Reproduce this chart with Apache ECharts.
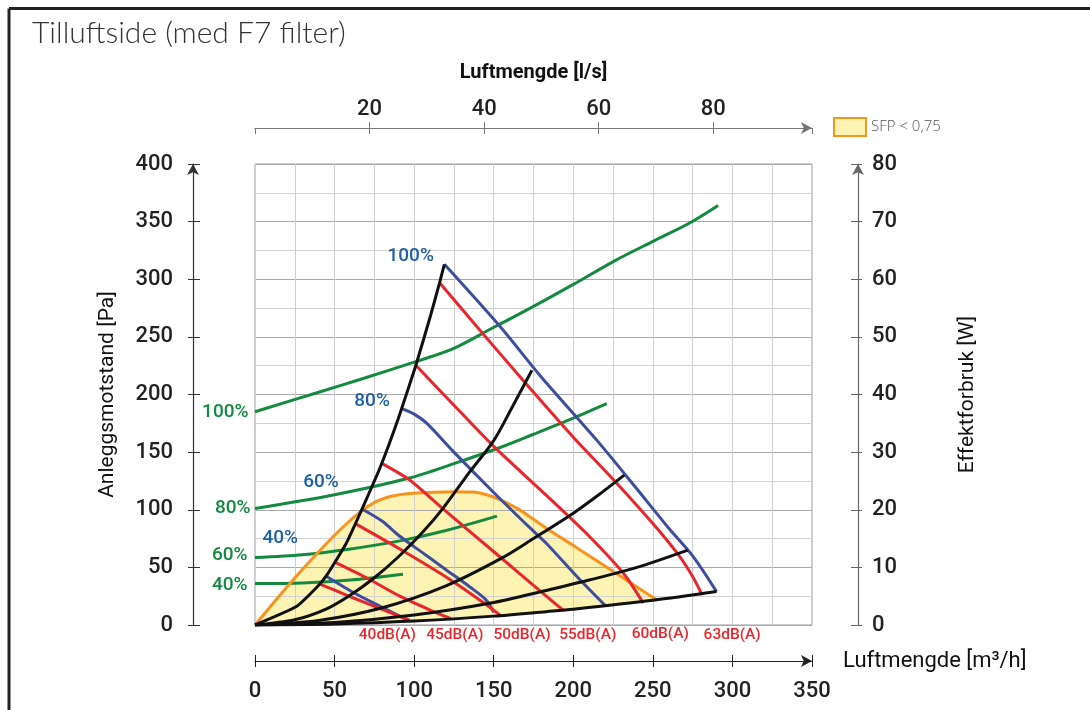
<!DOCTYPE html>
<html><head><meta charset="utf-8">
<script src="https://cdn.jsdelivr.net/npm/echarts@6.0.0/dist/echarts.min.js"></script>
<style>html,body{margin:0;padding:0;background:#fff}#c{width:1090px;height:710px}</style>
</head><body><div id="c"></div>
<script>
// ---------- DATA (x = Luftmengde m³/h, y = Pa or W) ----------
// Anleggskurver (black system curves) [m³/h, Pa]
const sys1 = [[0,0],[26,16],[39,33],[45,43],[57,70],[68,103],[79,138],[90,179],[101,225],[110,267],[116,297],[119,313]];
const sys2 = [[0,0],[25,4.5],[45,14],[60,26],[75,41],[90,59],[105,80],[118,101],[135,133],[150,160],[162,190],[174,221]];
const sys3 = [[0,0],[40,4],[80,15],[120,34],[155,58],[175,75],[200,97],[217,114],[232,130]];
const sys4 = [[0,0],[50,2.2],[100,8.7],[150,19.5],[183,30],[210,39],[240,50],[272,65]];
const sys5 = [[0,0],[50,0.9],[100,3.4],[150,7.7],[183,11.6],[200,13.7],[250,21.4],[290,29]];
// Viftekurver (blue fan curves) [m³/h, Pa]
const fan100 = [[119,313],[154,259],[180,215],[215,160],[240,118],[260,84],[275,60],[290,29]];
const fan80  = [[92,188],[100,183],[108,175],[125,150],[150,115],[173,84],[183,71],[203,41],[220,17]];
const fan60  = [[68,100],[80,90],[91,77],[105,63],[120,48],[135,33],[145,22],[150,11]];
const fan40  = [[45,42],[62,28],[79,16],[92,7],[97,4]];
const fanNames = ['100%','80%','60%','40%'];
// Lydlinjer (red sound lines) [m³/h, Pa]
const db40 = [[40,36],[60,24.5],[80,13.5],[97,4]];
const db45 = [[49.5,55],[70,41],[91,25],[110,13],[123,5.5]];
const db50 = [[63,88],[91,66],[122,40],[145,18],[154,8.5]];
const db55 = [[80,140],[97,126],[118,101],[154,59],[183,25],[194,12.5]];
const db60 = [[100.6,226],[122,195],[150,155],[185,110],[210,77],[232,44],[244,19]];
const db63 = [[116,297],[140,258],[168,213],[200,163],[226,125],[250,88],[266,61],[275,42],[281,26]];
const dbNames = ['40dB(A)','45dB(A)','50dB(A)','55dB(A)','60dB(A)','63dB(A)'];
// Effektforbruk (green power curves) [m³/h, W]
const pow100 = [[0,37],[40,40.4],[66,42.6],[101,45.7],[125,48],[151,51.8],[173,55],[200,59.1],[226,63.2],[251,66.7],[274,69.9],[291,72.8]];
const pow80  = [[0,20.2],[50,22.6],[97,25.5],[125,28.0],[154,30.8],[175,33.1],[200,35.9],[221,38.4]];
const pow60  = [[0,11.7],[30,12.2],[60,13.2],[91,14.6],[120,16.4],[152,18.9]];
const pow40  = [[0,7.2],[30,7.3],[60,7.8],[93,8.8]];
const powNames = ['100%','80%','60%','40%'];
// SFP < 0,75 boundary [m³/h, Pa]
const sfpEdge = [[0,0],[22,36],[39,62],[53,82],[66,98],[76,107],[85,111.5],[97,114],[125,115.7],[137,115.5],[150,111],[165,101],[183,84],[200,69],[230,42],[252.5,21.7]];
const sfpName = 'SFP < 0,75';

// ---------- STYLE ----------
const FONT = "'Roboto', 'DejaVu Sans', sans-serif";
const C = {black:'#111111', blue:'#3d4ea0', blueTxt:'#1f5fa8', red:'#e8262b', green:'#138a3f', orange:'#f7941d', fill:'#fdf3b3'};
const LW = 3;
const fanLabel = [ {d:10, o:[0,-8]}, {d:11, o:[0,-7]}, {d:24, o:[0,-28]}, {d:28, o:[0,-38]} ];
const powLabel = [ {d:6, o:[0,0]}, {d:4, o:[0,0]}, {d:7, o:[0,-2]}, {d:7, o:[0,2]} ];
const dbLabel  = [ [-22,6], [4,8], [22,11], [24,16], [17,23], [30,31.5] ];

function line(data, color, opts) {
  return Object.assign({
    type:'line', data: data, showSymbol:false, symbol:'none', smooth:0.3,
    lineStyle:{color:color, width:LW}, itemStyle:{color:color},
    xAxisIndex:0, yAxisIndex:0, silent:true, animation:false, z:3
  }, opts||{});
}
function mark(coord, text, color, size, pos, dist, off) {
  return { symbol:'circle', symbolSize:1, itemStyle:{color:'rgba(0,0,0,0)'}, animation:false, silent:true,
    label:{show:true, formatter:text, color:color, fontSize:size, fontWeight:500, fontFamily:FONT,
      position:pos, distance:dist, offset:off},
    data:[{coord:coord}] };
}

const series = [];
// SFP area
series.push({
  type:'custom', name:sfpName, xAxisIndex:0, yAxisIndex:0, z:-1, silent:true, animation:false,
  itemStyle:{color:C.fill},
  renderItem:function(params, api){
    const lower = sys5.filter(p => p[0] < sfpEdge[sfpEdge.length-1][0]).slice().reverse();
    const pts = sfpEdge.concat(lower).map(p => api.coord(p));
    return {type:'polygon', shape:{points:pts, smooth:0}, style:{fill:C.fill}};
  },
  data:[[0,0]]
});
// green power curves
[pow100,pow80,pow60,pow40].forEach((d,i)=>{
  series.push(line(d, C.green, {yAxisIndex:3, z:3,
    markPoint: mark(d[0], powNames[i], C.green, 19, 'left', powLabel[i].d, powLabel[i].o)}));
});
// orange SFP line
series.push(line(sfpEdge, C.orange, {z:4}));
// blue fan curves
[fan100,fan80,fan60,fan40].forEach((d,i)=>{
  series.push(line(d, C.blue, {z:5,
    markPoint: mark(d[0], fanNames[i], C.blueTxt, 19, 'left', fanLabel[i].d, fanLabel[i].o)}));
});
// red sound lines
[db40,db45,db50,db55,db60,db63].forEach((d,i)=>{
  series.push(line(d, C.red, {z:6, smooth:0.2,
    markPoint: mark(d[d.length-1], dbNames[i], C.red, 15.5, 'bottom', 0, dbLabel[i])}));
});
// black system curves
[sys1,sys2,sys3,sys4,sys5].forEach((d,i)=>{
  series.push(line(d, C.black, {z:7, smooth: i===0 ? 0.15 : 0.3}));
});

const axisTxt = {fontSize:22, fontWeight:500, color:'#222', fontFamily:FONT};
const nameTxt = {fontSize:21, color:'#111', fontFamily:FONT};
const hidden = {axisLine:{show:false}, axisTick:{show:false}, axisLabel:{show:false}, splitLine:{show:false}};
function aline(color){ return {show:true, onZero:false, symbol:['none','arrow'], symbolSize:[9,11], lineStyle:{color:color, width:1.2}}; }
function ticksOnly(color, len){ return {axisLine:{show:false, onZero:false}, axisTick:{show:true, inside:true, length:len, lineStyle:{color:color}}, axisLabel:{show:false}, splitLine:{show:false}}; }

const option = {
  animation:false,
  textStyle:{fontFamily:FONT},
  title:{text:'Tilluftside (med F7 filter)', left:27, top:13,
    textStyle:{fontSize:30, fontWeight:300, color:'#333', fontFamily:"'Lato', 'Open Sans', sans-serif"}},
  legend:{left:828, top:112, itemWidth:32, itemHeight:18, selectedMode:false, itemGap:8,
    data:[{name:sfpName, icon:'rect', itemStyle:{color:C.fill, borderColor:C.orange, borderWidth:2}}],
    textStyle:{fontSize:15, color:'#555', fontWeight:300, fontFamily:"'Open Sans', sans-serif"}},
  grid:{left:255, right:278, top:164, bottom:85, show:true, borderColor:'#9a9a9a', borderWidth:1, backgroundColor:'transparent'},
  xAxis:[
    Object.assign({}, hidden, {type:'value', min:0, max:350, interval:25,
      splitLine:{show:true, lineStyle:{color:'#cfcfcf', width:1}}}),
    {type:'value', position:'bottom', offset:36, min:0, max:350, interval:50,
      axisLine:aline('#222'),
      axisTick:{show:true, length:6, lineStyle:{color:'#222'}},
      axisLabel:Object.assign({margin:19}, axisTxt), splitLine:{show:false},
      name:'Luftmengde [m³/h]', nameLocation:'end', nameGap:31,
      nameTextStyle:Object.assign({align:'left', verticalAlign:'middle'}, nameTxt, {fontSize:22})},
    Object.assign({type:'value', position:'bottom', offset:36, min:0, max:350, interval:50}, ticksOnly('#222',6)),
    {type:'value', position:'top', offset:36, min:0, max:350/3.6, interval:20,
      axisLine:aline('#777'),
      axisTick:{show:true, length:6, lineStyle:{color:'#777'}},
      axisLabel:Object.assign({margin:8, showMinLabel:false, showMaxLabel:false}, axisTxt), splitLine:{show:false},
      name:'Luftmengde [l/s]', nameLocation:'middle', nameGap:45,
      nameTextStyle:Object.assign({}, nameTxt, {fontWeight:'bold', fontSize:20})},
    Object.assign({type:'value', position:'top', offset:36, min:0, max:350/3.6, interval:20}, ticksOnly('#777',6))
  ],
  yAxis:[
    Object.assign({}, hidden, {type:'value', min:0, max:400, interval:25, position:'left',
      splitLine:{show:true, lineStyle:{color:['#a9a9a9','#d2d2d2'], width:1}}}),
    {type:'value', position:'left', offset:62, min:0, max:400, interval:50,
      axisLine:aline('#333'),
      axisTick:{show:true, length:5, lineStyle:{color:'#333'}},
      axisLabel:Object.assign({margin:20}, axisTxt), splitLine:{show:false},
      name:'Anleggsmotstand [Pa]', nameLocation:'middle', nameGap:75, nameRotate:90,
      nameTextStyle:nameTxt},
    Object.assign({type:'value', position:'left', offset:62, min:0, max:400, interval:50}, ticksOnly('#333',7)),
    {type:'value', position:'right', offset:46, min:0, max:80, interval:10,
      axisLine:aline('#666'),
      axisTick:{show:true, length:4, lineStyle:{color:'#666'}},
      axisLabel:Object.assign({margin:14}, axisTxt), splitLine:{show:false},
      name:'Effektforbruk [W]', nameLocation:'middle', nameGap:99, nameRotate:90,
      nameTextStyle:nameTxt},
    Object.assign({type:'value', position:'right', offset:46, min:0, max:80, interval:10}, ticksOnly('#666',7))
  ],
  graphic:[
    {type:'line', shape:{x1:9, y1:8.5, x2:1090, y2:8.5}, style:{stroke:'#222', lineWidth:3}, silent:true},
    {type:'line', shape:{x1:9, y1:8.5, x2:9, y2:710}, style:{stroke:'#222', lineWidth:3}, silent:true}
  ],
  series: series
};
const chart = echarts.init(document.getElementById('c'));
chart.setOption(option);
</script></body></html>
